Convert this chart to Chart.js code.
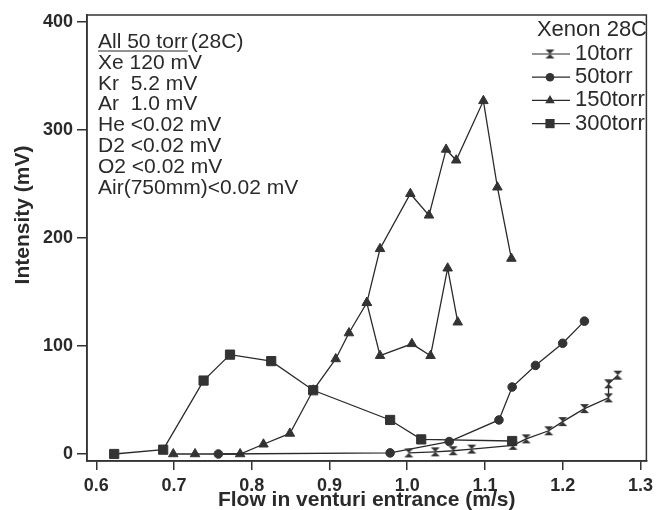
<!DOCTYPE html>
<html>
<head>
<meta charset="utf-8">
<script src="https://cdn.jsdelivr.net/npm/chart.js@4.4.0/dist/chart.umd.min.js"></script>
<style>
  html, body { margin: 0; padding: 0; background: #fff; }
</style>
</head>
<body>
<canvas id="chart" width="658" height="510"></canvas>
<script>
'use strict';

// values
const flow10 = [1.002, 1.036, 1.059, 1.083, 1.136, 1.153, 1.182, 1.200, 1.228, 1.259, 1.259, 1.271];
const int10 = [1, 2, 3, 4.5, 8, 14, 21.5, 30, 42, 52, 65, 73];

const flow50 = [0.757, 0.978, 1.054, 1.118, 1.135, 1.165, 1.200, 1.228];
const int50 = [0, 1, 11.5, 31.5, 62, 82, 102.5, 123];

const flow150 = [0.699, 0.727, 0.785, 0.815, 0.849, 0.879, 0.908, 0.925, 0.948, 0.965, 1.004, 1.028, 1.050, 1.063, 1.098, 1.116, 1.134];
const int150 = [0, 0, 0, 9, 19, 59, 88, 112, 140, 190, 241, 221, 282, 272, 327, 247, 181];

// second run at 150 torr branches off at 0.948
const flow150b = [0.948, 0.965, 1.006, 1.030, 1.052, 1.065];
const int150b = [140, 91, 102, 91, 172, 122];

const flow300 = [0.623, 0.686, 0.738, 0.772, 0.825, 0.879, 0.978, 1.018, 1.135];
const int300 = [0, 4, 68, 92, 86, 59, 31.5, 13.5, 12];

const xTicks = [0.6, 0.7, 0.8, 0.9, 1.0, 1.1, 1.2, 1.3];
const yTicks = [0, 100, 200, 300, 400];

const noteHead = 'All 50 torr';
const noteHeadTail = '(28C)';
const noteLines = ['Xe 120 mV', 'Kr  5.2 mV', 'Ar  1.0 mV', 'He <0.02 mV', 'D2 <0.02 mV', 'O2 <0.02 mV', 'Air(750mm)<0.02 mV'];
const legendTitle = 'Xenon 28C';

const ink = '#2a2a2a';
const fontFamily = '"Liberation Sans", Arial, Helvetica, sans-serif';

function pairs(xs, ys) {
    return xs.map((x, i) => ({ x: x, y: ys[i] }));
}

// hourglass marker for the 10 torr run
function makeHourglass(size) {
    const c = document.createElement('canvas');
    c.width = size;
    c.height = size;
    const g = c.getContext('2d');
    g.fillStyle = '#333';
    g.beginPath();
    g.moveTo(1, 1); g.lineTo(size - 1, 1); g.lineTo(size / 2, size / 2); g.closePath();
    g.fill();
    g.beginPath();
    g.moveTo(1, size - 1); g.lineTo(size - 1, size - 1); g.lineTo(size / 2, size / 2); g.closePath();
    g.fill();
    return c;
}
const hourglass = makeHourglass(11);

function series(label, data, style, radius) {
    return {
        label: label,
        data: data,
        borderColor: ink,
        borderWidth: 1.3,
        backgroundColor: '#333',
        pointStyle: style,
        pointRadius: radius,
        pointBorderWidth: 1,
        pointBorderColor: '#333',
        pointBackgroundColor: '#333',
        showLine: true,
        fill: false,
        tension: 0
    };
}

const datasets = [
    series('10torr', pairs(flow10, int10), hourglass, 5),
    series('50torr', pairs(flow50, int50), 'circle', 4.3),
    series('150torr', pairs(flow150, int150), 'triangle', 5.5),
    series('300torr', pairs(flow300, int300), 'rect', 6.5),
    series('150torr', pairs(flow150b, int150b), 'triangle', 5.5)
];

function drawMarker(ctx, style, r, x, y) {
    ctx.fillStyle = '#333';
    if (style instanceof HTMLCanvasElement) {
        ctx.drawImage(style, x - style.width / 2, y - style.height / 2);
        return;
    }
    ctx.beginPath();
    if (style === 'circle') {
        ctx.arc(x, y, r, 0, Math.PI * 2);
    } else if (style === 'rect') {
        const s = Math.SQRT1_2 * r;
        ctx.rect(x - s, y - s, 2 * s, 2 * s);
    } else if (style === 'triangle') {
        ctx.moveTo(x, y - r);
        ctx.lineTo(x + Math.sin(2 * Math.PI / 3) * r, y + r / 2);
        ctx.lineTo(x - Math.sin(2 * Math.PI / 3) * r, y + r / 2);
        ctx.closePath();
    }
    ctx.fill();
}

const decorPlugin = {
    id: 'decor',
    afterDraw(chart) {
        const ctx = chart.ctx;
        const a = chart.chartArea;
        ctx.save();

        // box round the plot
        ctx.strokeStyle = '#333';
        ctx.lineWidth = 1.5;
        ctx.strokeRect(a.left, a.top, a.right - a.left, a.bottom - a.top);

        // y title
        ctx.fillStyle = ink;
        ctx.font = 'bold 21px ' + fontFamily;
        ctx.textAlign = 'center';
        ctx.textBaseline = 'middle';
        ctx.save();
        ctx.translate(23, 215);
        ctx.rotate(-Math.PI / 2);
        ctx.fillText('Intensity (mV)', 0, 0);
        ctx.restore();

        // note block, upper left
        ctx.font = '21px ' + fontFamily;
        ctx.textAlign = 'left';
        ctx.textBaseline = 'middle';
        const nx = 98;
        let ny = 42;
        ctx.fillText(noteHead, nx, ny);
        const hw = ctx.measureText(noteHead).width;
        ctx.lineWidth = 1.2;
        ctx.strokeStyle = ink;
        ctx.beginPath();
        ctx.moveTo(nx, ny + 9);
        ctx.lineTo(nx + hw, ny + 9);
        ctx.stroke();
        ctx.fillText(noteHeadTail, nx + hw + 3, ny);
        noteLines.forEach((t, i) => {
            ctx.fillText(t, nx, ny + 20.9 * (i + 1));
        });

        // legend, upper right
        ctx.font = '22px ' + fontFamily;
        ctx.textAlign = 'right';
        ctx.fillText(legendTitle, 647, 30);
        ctx.textAlign = 'left';
        chart.data.datasets.slice(0, 4).forEach((ds, i) => {
            const ly = 54 + 23.2 * i;
            ctx.strokeStyle = ink;
            ctx.lineWidth = 1.2;
            ctx.beginPath();
            ctx.moveTo(532, ly);
            ctx.lineTo(570, ly);
            ctx.stroke();
            drawMarker(ctx, ds.pointStyle, ds.pointRadius, 550, ly);
            ctx.fillStyle = ink;
            ctx.fillText(ds.label, 575, ly);
        });

        ctx.restore();
    }
};

new Chart(document.getElementById('chart').getContext('2d'), {
    type: 'scatter',
    data: { datasets: datasets },
    options: {
        responsive: false,
        animation: false,
        layout: { padding: { top: 15, right: 7, left: 0, bottom: 0 } },
        plugins: {
            legend: { display: false },
            tooltip: { enabled: false }
        },
        scales: {
            x: {
                type: 'linear',
                min: 0.588,
                max: 1.3077,
                afterBuildTicks: (s) => { s.ticks = xTicks.map(v => ({ value: v })); },
                afterFit: (s) => { s.height = 49; },
                ticks: {
                    color: ink,
                    padding: 5,
                    maxRotation: 0,
                    font: { family: fontFamily, size: 18, weight: 'bold' },
                    callback: (v) => v.toFixed(1)
                },
                grid: { drawOnChartArea: false, tickLength: 9, color: '#333', lineWidth: 1.5 },
                border: { display: true, color: '#333', width: 1.5 },
                title: {
                    display: true,
                    text: 'Flow in venturi entrance (m/s)',
                    color: ink,
                    font: { family: fontFamily, size: 21, weight: 'bold' },
                    padding: { top: 0, bottom: -3 }
                }
            },
            y: {
                type: 'linear',
                min: -6.5,
                max: 406.5,
                afterBuildTicks: (s) => { s.ticks = yTicks.map(v => ({ value: v })); },
                afterFit: (s) => { s.width = 87; },
                ticks: {
                    color: ink,
                    padding: 4,
                    font: { family: fontFamily, size: 18, weight: 'bold' },
                    callback: (v) => String(v)
                },
                grid: { drawOnChartArea: false, tickLength: 10, color: '#333', lineWidth: 1.5 },
                border: { display: true, color: '#333', width: 1.5 }
            }
        }
    },
    plugins: [decorPlugin]
});
</script>
</body>
</html>
